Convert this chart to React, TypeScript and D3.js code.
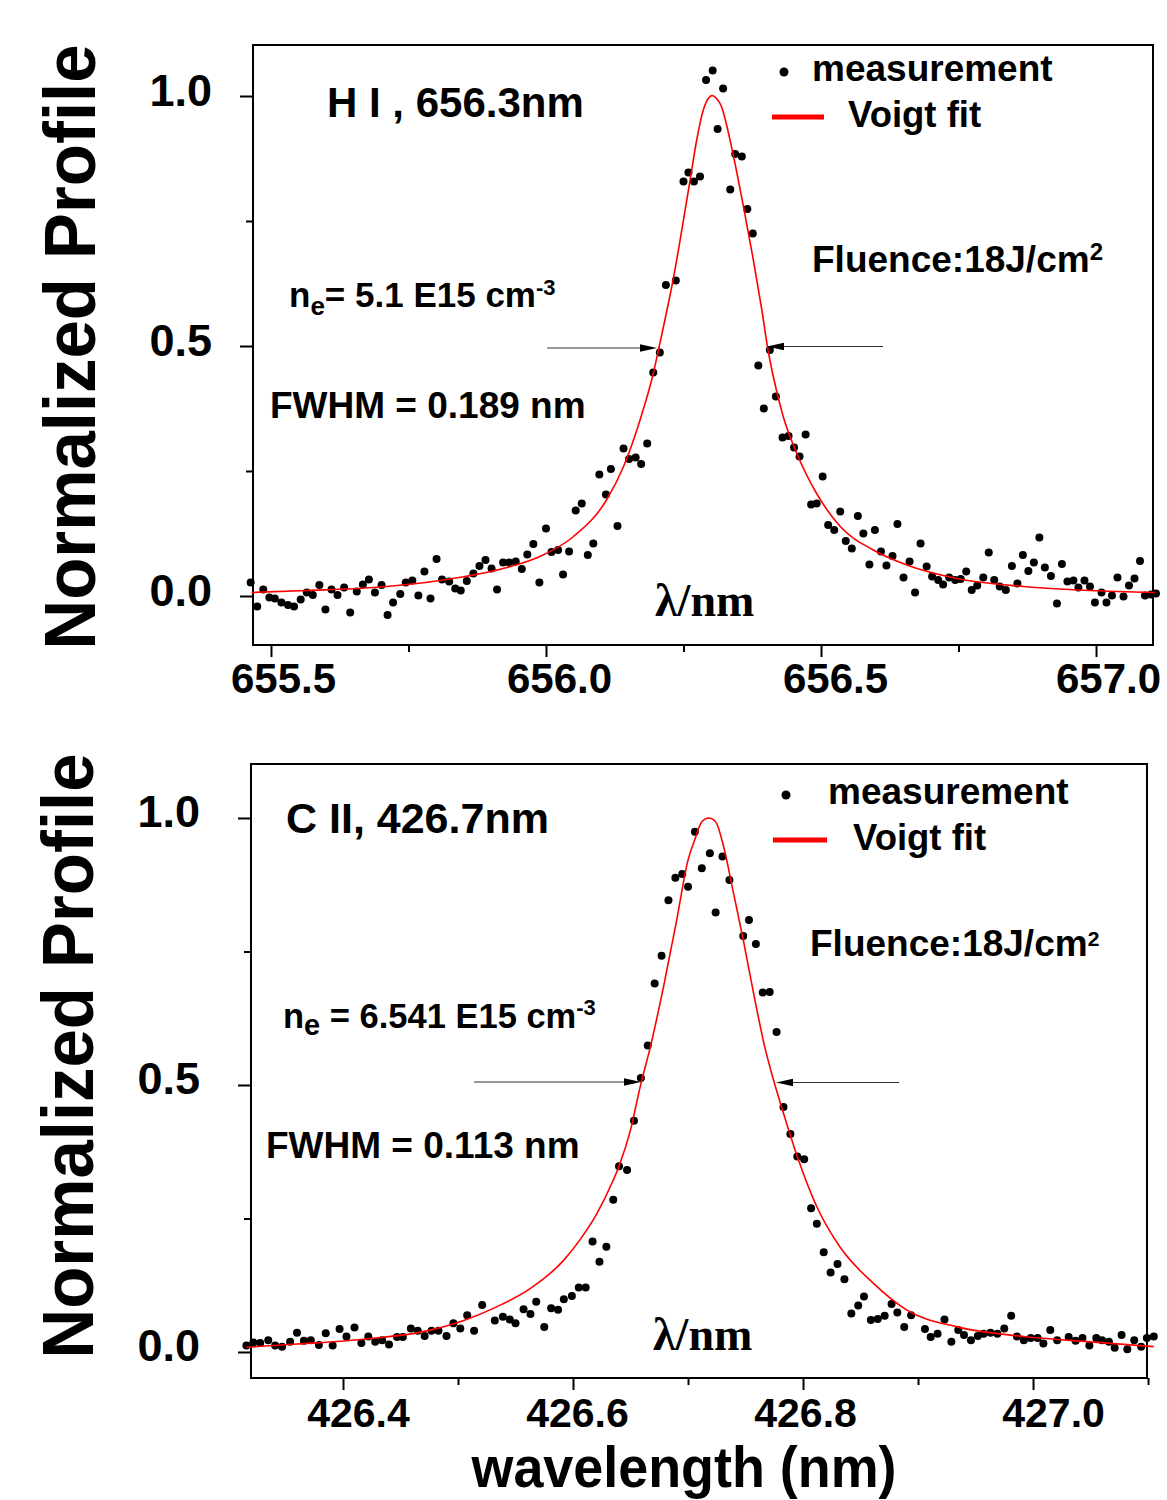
import React, { useEffect, useRef } from "react";
import * as d3 from "d3";

// H I 656.3 nm line: measured points [wavelength nm, normalized profile]
const hiMeasured: [number, number][] = [
  [655.463, 0.027], [655.475, -0.021], [655.486, 0.013], [655.497, -0.003], [655.507, -0.005],
  [655.519, -0.013], [655.531, -0.018], [655.542, -0.021], [655.554, -0.007], [655.565, 0.007],
  [655.576, 0.002], [655.588, 0.022], [655.599, -0.027], [655.61, 0.013], [655.621, 0.002],
  [655.633, 0.017], [655.644, -0.033], [655.656, 0.009], [655.667, 0.023], [655.678, 0.033],
  [655.689, 0.007], [655.701, 0.022], [655.712, -0.038], [655.722, -0.013], [655.735, 0.004],
  [655.745, 0.027], [655.757, 0.031], [655.768, 0.001], [655.779, 0.049], [655.79, -0.005],
  [655.801, 0.074], [655.811, 0.033], [655.824, 0.029], [655.835, 0.015], [655.845, 0.011],
  [655.856, 0.03], [655.868, 0.045], [655.879, 0.06], [655.89, 0.072], [655.901, 0.055],
  [655.911, 0.013], [655.922, 0.067], [655.933, 0.067], [655.945, 0.069], [655.956, 0.054],
  [655.966, 0.083], [655.977, 0.104], [655.988, 0.027], [656.0, 0.135], [656.01, 0.088],
  [656.022, 0.092], [656.031, 0.043], [656.042, 0.089], [656.054, 0.171], [656.065, 0.185],
  [656.076, 0.082], [656.086, 0.105], [656.097, 0.243], [656.109, 0.203], [656.118, 0.254],
  [656.13, 0.14], [656.141, 0.295], [656.151, 0.274], [656.163, 0.277], [656.173, 0.264],
  [656.184, 0.305], [656.195, 0.447], [656.207, 0.487], [656.218, 0.622], [656.236, 0.631],
  [656.25, 0.829], [656.259, 0.847], [656.269, 0.829], [656.28, 0.839], [656.291, 1.032],
  [656.303, 1.051], [656.312, 0.934], [656.322, 1.015], [656.335, 0.813], [656.344, 0.884],
  [656.356, 0.879], [656.366, 0.774], [656.376, 0.725], [656.386, 0.461], [656.396, 0.375],
  [656.407, 0.492], [656.418, 0.399], [656.43, 0.317], [656.441, 0.32], [656.451, 0.297],
  [656.461, 0.279], [656.472, 0.323], [656.482, 0.183], [656.492, 0.185], [656.503, 0.239],
  [656.513, 0.142], [656.524, 0.132], [656.535, 0.169], [656.545, 0.11], [656.556, 0.095],
  [656.567, 0.16], [656.577, 0.125], [656.588, 0.063], [656.598, 0.132], [656.609, 0.089],
  [656.619, 0.061], [656.63, 0.08], [656.639, 0.144], [656.65, 0.037], [656.661, 0.069],
  [656.671, 0.007], [656.681, 0.105], [656.692, 0.059], [656.702, 0.039], [656.713, 0.032],
  [656.722, 0.023], [656.733, 0.037], [656.744, 0.032], [656.754, 0.034], [656.764, 0.049],
  [656.774, 0.012], [656.784, 0.021], [656.795, 0.037], [656.805, 0.087], [656.815, 0.032],
  [656.825, 0.019], [656.836, 0.012], [656.847, 0.06], [656.857, 0.025], [656.867, 0.082],
  [656.877, 0.05], [656.887, 0.067], [656.897, 0.117], [656.907, 0.057], [656.918, 0.04],
  [656.929, -0.015], [656.938, 0.064], [656.948, 0.029], [656.959, 0.031], [656.968, 0.017],
  [656.979, 0.031], [656.989, 0.019], [656.998, -0.013], [657.01, 0.007], [657.019, -0.013],
  [657.029, 0.001], [657.039, 0.037], [657.05, -0.001], [657.06, 0.021], [657.07, 0.035],
  [657.08, 0.07], [657.089, 0.001], [657.1, 0.003], [657.109, 0.005],
];

// H I Voigt fit
const hiFit: [number, number][] = [
  [655.465, 0.007], [655.565, 0.011], [655.686, 0.017], [655.807, 0.031], [655.929, 0.057],
  [655.989, 0.079], [656.05, 0.119], [656.11, 0.192], [656.141, 0.259], [656.171, 0.352],
  [656.195, 0.445], [656.206, 0.5], [656.231, 0.632], [656.262, 0.832], [656.274, 0.912],
  [656.286, 0.972], [656.295, 0.995], [656.302, 1.001], [656.31, 0.995], [656.319, 0.979],
  [656.329, 0.939], [656.341, 0.879], [656.359, 0.779], [656.377, 0.672], [656.392, 0.575],
  [656.404, 0.49], [656.413, 0.44], [656.431, 0.36], [656.456, 0.285], [656.492, 0.205],
  [656.535, 0.139], [656.595, 0.092], [656.656, 0.062], [656.747, 0.035], [656.868, 0.019],
  [656.989, 0.011], [657.107, 0.007],
];

// C II 426.7 nm line: measured points
const ciiMeasured: [number, number][] = [
  [426.316, 0.012], [426.322, 0.018], [426.328, 0.017], [426.335, 0.022], [426.341, 0.012],
  [426.347, 0.01], [426.354, 0.019], [426.36, 0.036], [426.366, 0.021], [426.372, 0.022],
  [426.379, 0.013], [426.385, 0.035], [426.391, 0.012], [426.397, 0.043], [426.403, 0.029],
  [426.41, 0.046], [426.416, 0.017], [426.422, 0.029], [426.428, 0.019], [426.434, 0.022],
  [426.44, 0.014], [426.447, 0.028], [426.452, 0.028], [426.459, 0.044], [426.465, 0.04],
  [426.471, 0.03], [426.477, 0.04], [426.483, 0.04], [426.49, 0.03], [426.496, 0.054],
  [426.502, 0.044], [426.508, 0.069], [426.514, 0.04], [426.521, 0.088], [426.532, 0.059],
  [426.539, 0.066], [426.545, 0.061], [426.55, 0.054], [426.557, 0.08], [426.563, 0.071],
  [426.568, 0.094], [426.575, 0.047], [426.581, 0.082], [426.587, 0.079], [426.592, 0.099],
  [426.599, 0.105], [426.605, 0.121], [426.611, 0.121], [426.617, 0.207], [426.623, 0.169],
  [426.629, 0.197], [426.635, 0.285], [426.64, 0.348], [426.647, 0.341], [426.653, 0.433],
  [426.659, 0.513], [426.665, 0.574], [426.671, 0.69], [426.677, 0.742], [426.683, 0.846],
  [426.689, 0.888], [426.695, 0.895], [426.7, 0.871], [426.706, 0.974], [426.712, 0.906],
  [426.719, 0.934], [426.724, 0.823], [426.73, 0.928], [426.736, 0.884], [426.748, 0.779],
  [426.753, 0.809], [426.759, 0.764], [426.765, 0.673], [426.771, 0.674], [426.777, 0.599],
  [426.783, 0.459], [426.789, 0.408], [426.795, 0.366], [426.801, 0.361], [426.807, 0.269],
  [426.812, 0.24], [426.818, 0.187], [426.824, 0.149], [426.83, 0.165], [426.836, 0.136],
  [426.842, 0.072], [426.848, 0.087], [426.853, 0.104], [426.859, 0.06], [426.865, 0.062],
  [426.871, 0.068], [426.877, 0.09], [426.882, 0.074], [426.888, 0.047], [426.894, 0.069],
  [426.906, 0.043], [426.911, 0.028], [426.917, 0.034], [426.923, 0.061], [426.929, 0.019],
  [426.935, 0.041], [426.94, 0.032], [426.946, 0.022], [426.952, 0.03], [426.957, 0.034],
  [426.963, 0.036], [426.969, 0.034], [426.975, 0.044], [426.981, 0.068], [426.986, 0.029],
  [426.992, 0.022], [426.998, 0.026], [427.004, 0.026], [427.009, 0.016], [427.015, 0.041],
  [427.021, 0.022], [427.031, 0.028], [427.037, 0.021], [427.043, 0.026], [427.049, 0.012],
  [427.055, 0.026], [427.06, 0.022], [427.066, 0.019], [427.071, 0.008], [427.077, 0.032],
  [427.082, 0.005], [427.088, 0.022], [427.094, 0.01], [427.099, 0.026], [427.105, 0.029],
];

// C II Voigt fit
const ciiFit: [number, number][] = [
  [426.316, 0.009], [426.36, 0.015], [426.418, 0.024], [426.476, 0.041], [426.505, 0.059],
  [426.534, 0.085], [426.563, 0.119], [426.592, 0.172], [426.606, 0.21], [426.621, 0.26],
  [426.635, 0.322], [426.64, 0.348], [426.65, 0.416], [426.659, 0.502], [426.667, 0.569],
  [426.679, 0.687], [426.69, 0.807], [426.7, 0.921], [426.706, 0.96], [426.712, 0.993],
  [426.718, 1.0], [426.724, 0.993], [426.731, 0.946], [426.739, 0.865], [426.748, 0.772],
  [426.757, 0.672], [426.766, 0.578], [426.776, 0.497], [426.783, 0.447], [426.795, 0.366],
  [426.812, 0.272], [426.832, 0.197], [426.861, 0.129], [426.89, 0.079], [426.934, 0.047],
  [426.992, 0.029], [427.05, 0.019], [427.105, 0.01],
];

const hiXTicks = [655.5, 656.0, 656.5, 657.0];
const hiXMinor = [655.75, 656.25, 656.75];
const ciiXTicks = [426.4, 426.6, 426.8, 427.0];
const ciiXMinor = [426.5, 426.7, 426.9, 427.1];
const yTicks = [0, 0.5, 1.0];
const yMinor = [0.25, 0.75];

const SANS = "'Liberation Sans', Arial, Helvetica, sans-serif";
const SERIF = "'Liberation Serif', 'Times New Roman', serif";

type Part = { t: string; size?: number; dy?: number };

function addText(g: any, x: number, y: number, size: number, parts: Part[], family = SANS) {
  const text = g
    .append("text")
    .attr("x", x)
    .attr("y", y)
    .attr("font-family", family)
    .attr("font-weight", "bold")
    .attr("font-size", size)
    .attr("fill", "#000");
  parts.forEach((p) => {
    text
      .append("tspan")
      .attr("font-size", p.size ?? size)
      .attr("dy", p.dy ?? 0)
      .text(p.t);
  });
  return text;
}

function drawPanel(svg: any, p: any) {
  const x = d3.scaleLinear().domain(p.xDomain).range([p.left, p.right]);
  const y = d3.scaleLinear().domain(p.yDomain).range([p.bottom, p.top]);
  const g = svg.append("g");

  // x axis, major + minor ticks
  const xg = g
    .append("g")
    .attr("transform", `translate(0,${p.bottom})`)
    .call(d3.axisBottom(x).tickValues(p.xTicks).tickSize(12).tickFormat(d3.format(".1f")));
  g.append("g")
    .attr("transform", `translate(0,${p.bottom})`)
    .call(d3.axisBottom(x).tickValues(p.xMinor).tickSize(7).tickFormat(() => ""))
    .select(".domain")
    .remove();
  xg.select(".domain").remove();
  xg.attr("font-family", SANS).attr("font-size", p.xLabelSize).attr("font-weight", "bold");
  xg.selectAll("text")
    .attr("y", p.xLabelY)
    .attr("dy", 0)
    .attr("dx", (_: any, i: number) => p.xLabelDx[i])
    .attr("fill", "#000");

  // y axis
  const yg = g
    .append("g")
    .attr("transform", `translate(${p.left},0)`)
    .call(d3.axisLeft(y).tickValues(yTicks).tickSize(13).tickFormat(d3.format(".1f")));
  g.append("g")
    .attr("transform", `translate(${p.left},0)`)
    .call(d3.axisLeft(y).tickValues(yMinor).tickSize(7).tickFormat(() => ""))
    .select(".domain")
    .remove();
  yg.select(".domain").remove();
  yg.attr("font-family", SANS).attr("font-size", 45).attr("font-weight", "bold");
  yg.selectAll("text").attr("x", p.yLabelX).attr("dy", 9).attr("fill", "#000");

  g.selectAll(".tick line").attr("stroke", "#000").attr("stroke-width", 2);

  // frame
  g.append("rect")
    .attr("x", p.left)
    .attr("y", p.top)
    .attr("width", p.right - p.left)
    .attr("height", p.bottom - p.top)
    .attr("fill", "none")
    .attr("stroke", "#000")
    .attr("stroke-width", 2);

  // measurement dots
  g.append("g")
    .selectAll("circle")
    .data(p.measured)
    .join("circle")
    .attr("cx", (d: number[]) => x(d[0]))
    .attr("cy", (d: number[]) => y(d[1]))
    .attr("r", 4)
    .attr("fill", "#000");

  // Voigt fit
  const line = d3
    .line<[number, number]>()
    .x((d) => x(d[0]))
    .y((d) => y(d[1]))
    .curve(d3.curveMonotoneX);
  g.append("path")
    .datum(p.fit)
    .attr("d", line)
    .attr("fill", "none")
    .attr("stroke", "#ff0000")
    .attr("stroke-width", 1.6);

  // FWHM arrows
  p.arrows.forEach((a: any) => {
    const x1 = x(a.from);
    const x2 = x(a.to);
    const yy = y(a.v);
    const dir = Math.sign(x2 - x1);
    g.append("line")
      .attr("x1", x1)
      .attr("x2", x2 - dir * 10)
      .attr("y1", yy)
      .attr("y2", yy)
      .attr("stroke", "#333")
      .attr("stroke-width", 1.2);
    g.append("polygon")
      .attr("points", `${x2},${yy} ${x2 - dir * 17},${yy - 3.8} ${x2 - dir * 17},${yy + 3.8}`)
      .attr("fill", "#000");
  });

  // legend
  g.append("circle").attr("cx", p.legend.dotX).attr("cy", p.legend.dotY).attr("r", 4.5).attr("fill", "#000");
  addText(g, p.legend.mX, p.legend.mY, 37, [{ t: "measurement" }]);
  g.append("line")
    .attr("x1", p.legend.lineX1)
    .attr("x2", p.legend.lineX2)
    .attr("y1", p.legend.lineY)
    .attr("y2", p.legend.lineY)
    .attr("stroke", "#ff0000")
    .attr("stroke-width", 5);
  addText(g, p.legend.vX, p.legend.vY, 36.5, [{ t: "Voigt fit" }]);

  p.labels.forEach((l: any) => addText(g, l.x, l.y, l.size, l.parts, l.family ?? SANS));

  // y axis title
  svg
    .append("text")
    .attr("transform", `translate(${p.yTitleX},${p.yTitleY}) rotate(-90)`)
    .attr("text-anchor", "middle")
    .attr("font-family", SANS)
    .attr("font-weight", "bold")
    .attr("font-size", 72)
    .attr("textLength", 605)
    .attr("lengthAdjust", "spacingAndGlyphs")
    .text("Normalized Profile");
}

const App = () => {
  const ref = useRef<SVGSVGElement>(null);

  useEffect(() => {
    const svg = d3.select(ref.current);
    svg.selectAll("*").remove();

    drawPanel(svg, {
      left: 253, right: 1153, top: 45, bottom: 645,
      xDomain: [655.4673, 657.1036], yDomain: [-0.098, 1.102],
      xTicks: hiXTicks, xMinor: hiXMinor,
      xLabelSize: 42, xLabelY: 48, xLabelDx: [12, 13, 14, 12], yLabelX: -41,
      measured: hiMeasured, fit: hiFit,
      arrows: [
        { from: 656.002, to: 656.2018, v: 0.496 },
        { from: 656.6127, to: 656.4018, v: 0.499 },
      ],
      legend: { dotX: 784, dotY: 72, mX: 812, mY: 81, lineX1: 772, lineX2: 824, lineY: 117, vX: 848, vY: 127 },
      labels: [
        { x: 327, y: 117, size: 42, parts: [{ t: "H I , 656.3nm" }] },
        { x: 812, y: 272, size: 37, parts: [{ t: "Fluence:18J/cm" }, { t: "2", size: 24, dy: -12 }] },
        {
          x: 289, y: 307, size: 35,
          parts: [{ t: "n" }, { t: "e", size: 26, dy: 8 }, { t: "= 5.1 E15 cm", dy: -8 }, { t: "-3", size: 22, dy: -12 }],
        },
        { x: 270, y: 418, size: 37, parts: [{ t: "FWHM = 0.189 nm" }] },
        { x: 655, y: 616, size: 46, parts: [{ t: "λ/nm" }], family: SERIF },
      ],
      yTitleX: 95, yTitleY: 347,
    });

    drawPanel(svg, {
      left: 251, right: 1147, top: 764, bottom: 1378,
      xDomain: [426.32, 427.0991], yDomain: [-0.0487, 1.1011],
      xTicks: ciiXTicks, xMinor: ciiXMinor,
      xLabelSize: 41, xLabelY: 49, xLabelDx: [15, 4, 2, 20], yLabelX: -51,
      measured: ciiMeasured, fit: ciiFit,
      arrows: [
        { from: 426.5139, to: 426.6591, v: 0.5056 },
        { from: 426.8835, to: 426.7765, v: 0.5047 },
      ],
      legend: { dotX: 786, dotY: 795, mX: 828, mY: 804, lineX1: 773, lineX2: 827, lineY: 840, vX: 853, vY: 850 },
      labels: [
        { x: 286, y: 833, size: 43, parts: [{ t: "C II, 426.7nm" }] },
        { x: 810, y: 956, size: 37, parts: [{ t: "Fluence:18J/cm" }, { t: "2", size: 21, dy: -10 }] },
        {
          x: 283, y: 1028, size: 34.5,
          parts: [{ t: "n" }, { t: "e", size: 29, dy: 7 }, { t: " = 6.541 E15 cm", dy: -7 }, { t: "-3", size: 22, dy: -13 }],
        },
        { x: 266, y: 1158, size: 37, parts: [{ t: "FWHM = 0.113 nm" }] },
        { x: 653, y: 1350, size: 46, parts: [{ t: "λ/nm" }], family: SERIF },
      ],
      yTitleX: 93, yTitleY: 1056,
    });

    svg
      .append("text")
      .attr("x", 684)
      .attr("y", 1487)
      .attr("text-anchor", "middle")
      .attr("font-family", SANS)
      .attr("font-weight", "bold")
      .attr("font-size", 57)
      .attr("textLength", 425)
      .attr("lengthAdjust", "spacingAndGlyphs")
      .text("wavelength (nm)");
  }, []);

  return (
    <svg
      ref={ref}
      width={1167}
      height={1500}
      style={{ position: "absolute", left: 0, top: 0, background: "#fff" }}
    />
  );
};

export default App;
